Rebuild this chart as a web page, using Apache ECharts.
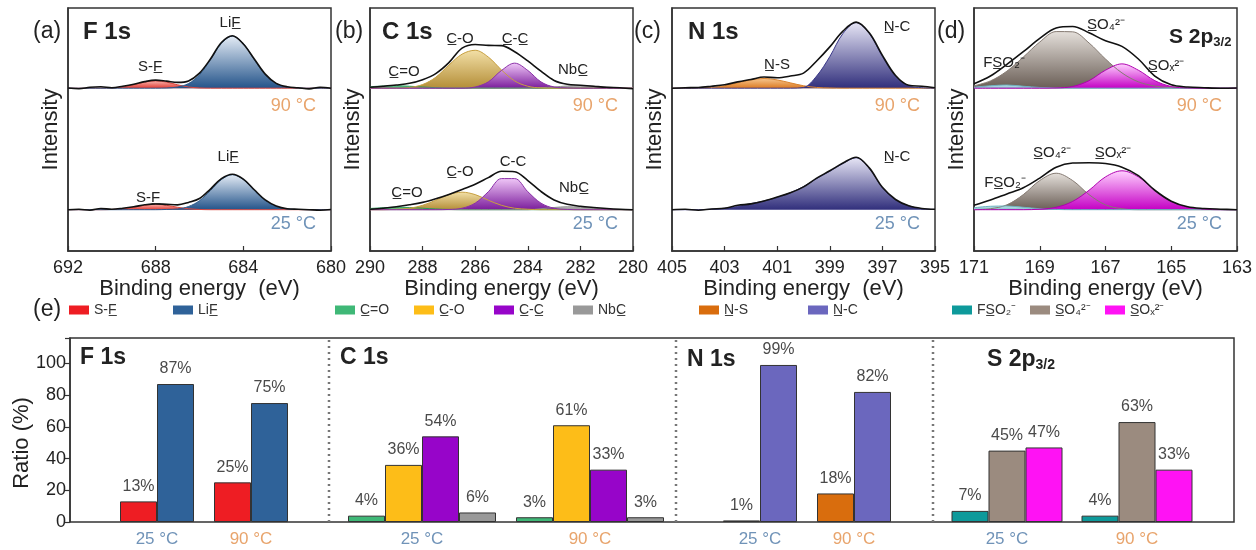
<!DOCTYPE html>
<html>
<head>
<meta charset="utf-8">
<script src="https://cdn.jsdelivr.net/npm/echarts@6/dist/echarts.min.js"></script>
<style>
html, body { margin: 0; padding: 0; background: #fff; }
#chart { width: 1256px; height: 550px; }
</style>
</head>
<body>
<div id="chart"></div>
<script>
// ---------- XPS spectra (heights above each spectrum's baseline) ----------
const eA = [692,691.5,691,690.5,690,689.5,689,688.5,688,687.5,687,686.5,686,685.5,685,684.5,684,683.5,683,682.5,682,681.5,681,680.5,680];
const a90SF  = [0,0,0,0,0.001,0.005,0.014,0.025,0.03,0.025,0.014,0.005,0.001,0,0,0,0,0,0,0,0,0,0,0,0];
const a90LiF = [0,0,0,0,0,0,0,0,0,0.001,0.005,0.019,0.055,0.117,0.184,0.214,0.184,0.117,0.055,0.019,0.005,0.001,0,0,0];
const a90Env = [0.001,-0.002,0.004,0.006,0.002,0.008,0.016,0.027,0.033,0.029,0.024,0.03,0.062,0.12,0.188,0.216,0.182,0.12,0.058,0.02,0.006,0.002,-0.003,0.004,0];
const a25SF  = [0,0,0,0,0.001,0.004,0.01,0.018,0.022,0.018,0.01,0.004,0.001,0,0,0,0,0,0,0,0,0,0,0,0];
const a25LiF = [0,0,0,0,0,0,0,0,0,0.001,0.003,0.013,0.037,0.079,0.124,0.144,0.124,0.079,0.037,0.013,0.003,0.001,0,0,0];
const a25Env = [0,0.002,-0.002,0.005,0.002,0.006,0.012,0.02,0.024,0.022,0.02,0.03,0.046,0.085,0.128,0.146,0.126,0.082,0.04,0.015,0.004,0.002,0,-0.002,0.001];

const eB = [290,289.5,289,288.5,288,287.5,287,286.5,286,285.5,285,284.5,284,283.5,283,282.5,282,281.5,281,280.5,280];
const b90CdO = [0.006,0.009,0.01,0.008,0.005,0.002,0,0,0,0,0,0,0,0,0,0,0,0,0,0,0];
const b90CO  = [0,0,0,0.003,0.015,0.045,0.095,0.14,0.156,0.128,0.075,0.03,0.008,0.001,0,0,0,0,0,0,0];
const b90CC  = [0,0,0,0,0,0,0,0,0.005,0.026,0.073,0.103,0.073,0.026,0.005,0.001,0,0,0,0,0];
const b90NbC = [0,0,0,0,0,0,0,0,0,0,0,0,0,0.002,0.005,0.009,0.01,0.008,0.004,0.002,0.001];
const b90Env = [0.004,0.008,0.013,0.02,0.035,0.06,0.105,0.165,0.18,0.176,0.175,0.15,0.112,0.07,0.032,0.016,0.012,0.008,0.004,0.002,-0.002];
const b25CdO = [0.005,0.008,0.01,0.009,0.006,0.003,0.001,0,0,0,0,0,0,0,0,0,0,0,0,0,0];
const b25CO  = [0,0,0.002,0.006,0.018,0.039,0.062,0.072,0.062,0.039,0.018,0.006,0.002,0,0,0,0,0,0,0,0];
const b25CC  = [0,0,0,0,0,0,0.001,0.006,0.027,0.074,0.128,0.128,0.074,0.027,0.006,0.001,0,0,0,0,0];
const b25NbC = [0,0,0,0,0,0,0,0,0,0,0,0,0,0.004,0.009,0.012,0.01,0.006,0.003,0.001,0];
const b25Env = [0.002,0.006,0.012,0.02,0.03,0.045,0.063,0.083,0.105,0.132,0.158,0.156,0.12,0.075,0.04,0.022,0.014,0.009,0.005,0.002,0];

const eC = [405,404.5,404,403.5,403,402.5,402,401.5,401,400.5,400,399.5,399,398.5,398,397.5,397,396.5,396,395.5,395];
const c90NS  = [0,0,0.001,0.003,0.01,0.022,0.034,0.04,0.034,0.022,0.01,0.003,0.001,0,0,0,0,0,0,0,0];
const c90NC  = [0,0,0,0,0,0,0,0,0,0,0.003,0.05,0.13,0.225,0.27,0.225,0.13,0.05,0.01,0.002,0];
const c90Env = [0,0.002,0.003,0.008,0.014,0.026,0.036,0.046,0.043,0.05,0.062,0.112,0.17,0.235,0.272,0.228,0.135,0.052,0.012,0.008,0.002];
const c25NC  = [0,0,0,0.002,0.006,0.013,0.025,0.036,0.05,0.07,0.095,0.128,0.158,0.19,0.214,0.17,0.09,0.04,0.016,0.004,0.001];
const c25Env = [0,0.002,-0.002,0.003,0.006,0.018,0.024,0.036,0.052,0.07,0.094,0.13,0.16,0.192,0.216,0.172,0.092,0.042,0.016,0.005,0.002];

const eD = [171,170.5,170,169.5,169,168.5,168,167.5,167,166.5,166,165.5,165,164.5,164,163.5,163];
const d90FSO2 = [0.004,0.01,0.013,0.008,0.003,0.001,0,0,0,0,0,0,0,0,0,0,0];
const d90SO4  = [0.01,0.03,0.07,0.128,0.19,0.233,0.232,0.186,0.12,0.063,0.026,0.009,0.002,0,0,0,0];
const d90SOx  = [0,0,0,0,0,0.001,0.007,0.031,0.074,0.1,0.074,0.031,0.007,0.001,0,0,0];
const d90Env  = [0.018,0.05,0.098,0.15,0.205,0.248,0.254,0.228,0.195,0.172,0.12,0.05,0.014,0.005,0.002,0,0.001];
const d25FSO2 = [0.008,0.014,0.015,0.01,0.004,0.001,0,0,0,0,0,0,0,0,0,0,0];
const d25SO4  = [0,0.004,0.02,0.062,0.12,0.15,0.12,0.062,0.02,0.004,0,0,0,0,0,0,0];
const d25SOx  = [0,0,0,0,0.002,0.01,0.034,0.08,0.135,0.16,0.135,0.08,0.034,0.01,0.002,0,0];
const d25Env  = [0.018,0.04,0.065,0.09,0.13,0.175,0.192,0.193,0.19,0.175,0.14,0.08,0.035,0.012,0.005,0.002,0];

// baseline of each spectrum on the 0..1 intensity axis
const BASE_25 = 0.17;
const BASE_90 = 0.67;

// ---------- (e) ratios ----------
const tempCats = ['25 °C', '90 °C'];
const ratioSF   = [13, 25];
const ratioLiF  = [87, 75];
const ratioCdO  = [4, 3];
const ratioCO   = [36, 61];
const ratioCC   = [54, 33];
const ratioNbC  = [6, 3];
const ratioNS   = [1, 18];
const ratioNC   = [99, 82];
const ratioFSO2 = [7, 4];
const ratioSO4  = [45, 63];
const ratioSOx  = [47, 33];

// ---------- styles ----------
const FONT = '"Liberation Sans", Arial, sans-serif';
const COL_90 = '#e8a46c';
const COL_25 = '#7093b8';

const NAMES = {
    SF: 'S-F\u0332', LiF: 'LiF\u0332', CdO: 'C\u0332=O', CO: 'C\u0332-O', CC: 'C\u0332-C\u0332', NbC: 'NbC\u0332',
    NS: 'N\u0332-S', NC: 'N\u0332-C', FSO2: 'FS\u0332O\u2082\u207B', SO4: 'S\u0332O\u2084\u00B2\u207B', SOx: 'S\u0332O\u2093\u00B2\u207B'
};
const RATIO = { SF: ratioSF, LiF: ratioLiF, CdO: ratioCdO, CO: ratioCO, CC: ratioCC, NbC: ratioNbC,
    NS: ratioNS, NC: ratioNC, FSO2: ratioFSO2, SO4: ratioSO4, SOx: ratioSOx };
const BAR_COLOR = { SF: '#ee1d23', LiF: '#2f6299', CdO: '#3fb877', CO: '#fdbd18', CC: '#9705c9', NbC: '#999999',
    NS: '#d96d0d', NC: '#6b67be', FSO2: '#0e9a9b', SO4: '#9b8b7f', SOx: '#ff12f4' };
const FILL = {
    SF:   { top: '#f7b3ac', bot: '#e33b34', line: '#d9463e' },
    LiF:  { top: '#e3ebf5', bot: '#24548a', line: '#2a5a8e' },
    CdO:  { top: '#7fd6a4', bot: '#2aa560', line: '#2a9a5a' },
    CO:   { top: '#f2dfa6', bot: '#b48e38', line: '#c79f3f' },
    CC:   { top: '#efc6f7', bot: '#7b1d9c', line: '#8a2fa8' },
    NbC:  { top: '#c8c8c8', bot: '#8c8c8c', line: '#8a8a8a' },
    NS:   { top: '#f6c690', bot: '#dc7a22', line: '#d9822e' },
    NC:   { top: '#e6e5f5', bot: '#312f7c', line: '#3a388a' },
    FSO2: { top: '#c6e6ec', bot: '#7fc0cc', line: '#6fb2c0' },
    SO4:  { top: '#e4dfda', bot: '#6a5e56', line: '#857a72' },
    SOx:  { top: '#ffd0ff', bot: '#c400c4', line: '#b000b0' }
};

// ---------- layout ----------
const PANEL_TOP = 8, PANEL_H = 243, PANEL_W = 263;
// components listed in drawing order (last one draws the baseline on top)
const panels = [
    { left: 68, min: 680, max: 692, interval: 4, name: 'Binding energy  (eV)', e: eA,
      s90: [['SF', a90SF], ['LiF', a90LiF]], env90: a90Env,
      s25: [['SF', a25SF], ['LiF', a25LiF]], env25: a25Env },
    { left: 370, min: 280, max: 290, interval: 2, name: 'Binding energy (eV)', e: eB,
      s90: [['CdO', b90CdO], ['NbC', b90NbC], ['CO', b90CO], ['CC', b90CC]], env90: b90Env,
      s25: [['CdO', b25CdO], ['NbC', b25NbC], ['CO', b25CO], ['CC', b25CC]], env25: b25Env },
    { left: 672, min: 395, max: 405, interval: 2, name: 'Binding energy  (eV)', e: eC,
      s90: [['NS', c90NS], ['NC', c90NC]], env90: c90Env,
      s25: [['NC', c25NC]], env25: c25Env },
    { left: 974, min: 163, max: 171, interval: 2, name: 'Binding energy (eV)', e: eD,
      s90: [['SO4', d90SO4], ['FSO2', d90FSO2], ['SOx', d90SOx]], env90: d90Env,
      s25: [['SO4', d25SO4], ['FSO2', d25FSO2], ['SOx', d25SOx]], env25: d25Env }
];

const BAR_TOP = 338, BAR_H = 184, BAR_LEFT = 70, BAR_W = 1164, BAR_MAX = 116;
const sections = [
    { left: 110, width: 188, keys: ['SF', 'LiF'] },
    { left: 338, width: 336, keys: ['CdO', 'CO', 'CC', 'NbC'] },
    { left: 713, width: 188, keys: ['NS', 'NC'] },
    { left: 942, width: 260, keys: ['FSO2', 'SO4', 'SOx'] }
];
// left edge of each legend swatch
const legendLeft = { SF: 69, LiF: 173, CdO: 335, CO: 414, CC: 494, NbC: 573, NS: 699, NC: 808, FSO2: 952, SO4: 1030, SOx: 1105 };

const grid = [], xAxis = [], yAxis = [], series = [], graphic = [];

function gradient(f) {
    return { type: 'linear', x: 0, y: 0, x2: 0, y2: 1,
        colorStops: [{ offset: 0, color: f.top }, { offset: 1, color: f.bot }] };
}

function specSeries(gi, energies, vals, base, key) {
    const f = FILL[key];
    return {
        type: 'line', xAxisIndex: gi, yAxisIndex: gi, smooth: 0.35, symbol: 'none', silent: true,
        data: energies.map((e, k) => [e, base + vals[k]]),
        lineStyle: { color: f.line, width: 1 },
        areaStyle: { origin: base, opacity: 1, color: gradient(f) }
    };
}

function envSeries(gi, energies, vals, base) {
    return {
        type: 'line', xAxisIndex: gi, yAxisIndex: gi, smooth: 0.35, symbol: 'none', silent: true, z: 5,
        data: energies.map((e, k) => [e, base + vals[k]]),
        lineStyle: { color: '#111', width: 1.6 }
    };
}

function txt(x, y, text, size, extra) {
    return {
        type: 'text', x: x, y: y, z: 10,
        style: Object.assign({
            text: text, fontSize: size, fontFamily: FONT, fill: '#222',
            textAlign: 'center', align: 'center', textVerticalAlign: 'middle', verticalAlign: 'middle'
        }, extra || {})
    };
}

// ---- top panels ----
panels.forEach((p, i) => {
    grid.push({ left: p.left, top: PANEL_TOP, width: PANEL_W, height: PANEL_H, show: true,
        borderColor: '#333', borderWidth: 1.5 });
    xAxis.push({
        gridIndex: i, type: 'value', inverse: true, min: p.min, max: p.max, interval: p.interval,
        axisLine: { show: true, lineStyle: { color: '#333', width: 1.5 } },
        axisTick: { inside: true, length: 5, lineStyle: { color: '#333', width: 1.2 } },
        axisLabel: { fontSize: 18, color: '#222', margin: 8, fontFamily: FONT },
        splitLine: { show: false },
        name: p.name, nameLocation: 'middle', nameGap: 24,
        nameTextStyle: { fontSize: 22, color: '#222', fontFamily: FONT }
    });
    yAxis.push({
        gridIndex: i, type: 'value', min: 0, max: 1,
        axisLine: { show: true, lineStyle: { color: '#333', width: 1.5 } },
        axisTick: { show: false }, axisLabel: { show: false }, splitLine: { show: false },
        name: 'Intensity', nameLocation: 'middle', nameGap: 6, nameRotate: 90,
        nameTextStyle: { fontSize: 22, color: '#222', fontFamily: FONT }
    });
    p.s90.forEach(([k, v]) => series.push(specSeries(i, p.e, v, BASE_90, k)));
    series.push(envSeries(i, p.e, p.env90, BASE_90));
    p.s25.forEach(([k, v]) => series.push(specSeries(i, p.e, v, BASE_25, k)));
    series.push(envSeries(i, p.e, p.env25, BASE_25));

    const right = p.left + PANEL_W - 15;
    graphic.push(txt(right, 106, '90 °C', 18, { fill: COL_90, textAlign: 'right', align: 'right' }));
    graphic.push(txt(right, 224, '25 °C', 18, { fill: COL_25, textAlign: 'right', align: 'right' }));
});

// panel captions and peak labels
const lbl = 15;
graphic.push(
    txt(33, 32, '(a)', 23, { textAlign: 'left', align: 'left' }),
    txt(83, 32, 'F 1s', 24, { textAlign: 'left', align: 'left', fontWeight: 'bold' }),
    txt(230, 23, NAMES.LiF, lbl), txt(150, 67, NAMES.SF, lbl),
    txt(228, 157, NAMES.LiF, lbl), txt(148, 198, NAMES.SF, lbl),

    txt(335, 32, '(b)', 23, { textAlign: 'left', align: 'left' }),
    txt(382, 32, 'C 1s', 24, { textAlign: 'left', align: 'left', fontWeight: 'bold' }),
    txt(460, 39, NAMES.CO, lbl), txt(515, 39, NAMES.CC, lbl),
    txt(404, 72, NAMES.CdO, lbl), txt(573, 70, NAMES.NbC, lbl),
    txt(513, 162, 'C-C', lbl), txt(460, 172, NAMES.CO, lbl),
    txt(407, 193, NAMES.CdO, lbl), txt(574, 188, NAMES.NbC, lbl),

    txt(634, 32, '(c)', 23, { textAlign: 'left', align: 'left' }),
    txt(688, 32, 'N 1s', 24, { textAlign: 'left', align: 'left', fontWeight: 'bold' }),
    txt(777, 65, NAMES.NS, lbl), txt(897, 27, NAMES.NC, lbl), txt(897, 157, NAMES.NC, lbl),

    txt(937, 32, '(d)', 23, { textAlign: 'left', align: 'left' }),
    txt(1169, 37, '{b|S 2p}{s|3/2}', 21, { textAlign: 'left', align: 'left',
        rich: { b: { fontSize: 21, fontWeight: 'bold', fontFamily: FONT, fill: '#222' },
                s: { fontSize: 13, fontWeight: 'bold', fontFamily: FONT, fill: '#222', padding: [10, 0, 0, 0] } } }),
    txt(1106, 25, NAMES.SO4, lbl), txt(1004, 63, NAMES.FSO2, lbl), txt(1166, 66, NAMES.SOx, lbl),
    txt(1052, 153, NAMES.SO4, lbl), txt(1113, 153, NAMES.SOx, lbl), txt(1005, 183, NAMES.FSO2, lbl)
);

// ---- (e) bar chart frame with the ratio axis ----
const frameIdx = grid.length;
grid.push({ left: BAR_LEFT, top: BAR_TOP, width: BAR_W, height: BAR_H, show: true,
    borderColor: '#333', borderWidth: 1.5 });
xAxis.push({ gridIndex: frameIdx, type: 'value', min: 0, max: 1, show: false });
yAxis.push({
    gridIndex: frameIdx, type: 'value', min: 0, max: BAR_MAX, interval: 20,
    axisLine: { show: true, lineStyle: { color: '#333', width: 1.5 } },
    axisTick: { show: true, inside: false, length: 5, lineStyle: { color: '#333', width: 1.2 } },
    axisLabel: { fontSize: 18, color: '#222', margin: 4, fontFamily: FONT,
        formatter: (v) => (v % 20 === 0 ? String(v) : '') },
    splitLine: { show: false }
});

sections.forEach((s, j) => {
    const gi = grid.length;
    grid.push({ left: s.left, top: BAR_TOP, width: s.width, height: BAR_H });
    xAxis.push({
        gridIndex: gi, type: 'category', data: tempCats,
        axisLine: { show: false }, axisTick: { show: false },
        axisLabel: { fontSize: 17, margin: 9, fontFamily: FONT,
            color: (v) => v.indexOf('25') === 0 ? COL_25 : COL_90 }
    });
    yAxis.push({ gridIndex: gi, type: 'value', min: 0, max: BAR_MAX, show: false });
    s.keys.forEach(k => series.push({
        type: 'bar', name: NAMES[k], xAxisIndex: gi, yAxisIndex: gi,
        data: RATIO[k], barWidth: 37, barGap: '0%',
        itemStyle: { color: BAR_COLOR[k], borderColor: '#333', borderWidth: 1 },
        label: { show: true, position: 'top', distance: 7, formatter: (q) => q.value + '%',
            fontSize: 16, color: '#4a4a4a', fontFamily: FONT }
    }));
});

// section dividers and titles of (e)
[329, 676, 933].forEach(x => graphic.push({
    type: 'line', z: 3, shape: { x1: x, y1: BAR_TOP + 2, x2: x, y2: BAR_TOP + BAR_H },
    style: { stroke: '#777', lineWidth: 2.5, lineDash: [2, 4] }
}));
const ratioName = txt(22, 443, 'Ratio (%)', 22);
ratioName.rotation = Math.PI / 2;
graphic.push(
    ratioName,
    txt(33, 310, '(e)', 23, { textAlign: 'left', align: 'left' }),
    txt(80, 358, 'F 1s', 23, { textAlign: 'left', align: 'left', fontWeight: 'bold' }),
    txt(340, 358, 'C 1s', 23, { textAlign: 'left', align: 'left', fontWeight: 'bold' }),
    txt(687, 360, 'N 1s', 23, { textAlign: 'left', align: 'left', fontWeight: 'bold' }),
    txt(987, 360, '{b|S 2p}{s|3/2}', 23, { textAlign: 'left', align: 'left',
        rich: { b: { fontSize: 23, fontWeight: 'bold', fontFamily: FONT, fill: '#222' },
                s: { fontSize: 14, fontWeight: 'bold', fontFamily: FONT, fill: '#222', padding: [11, 0, 0, 0] } } })
);

// ---- legend: one swatch per component, placed under its panel ----
const legends = Object.keys(legendLeft).map(k => ({
    left: legendLeft[k], top: 303, padding: 0, itemWidth: 20, itemHeight: 9, itemGap: 0,
    icon: 'rect', selectedMode: false, data: [NAMES[k]],
    itemStyle: { borderWidth: 0 },
    textStyle: { fontSize: 14, color: '#333', fontFamily: FONT }
}));

const chart = echarts.init(document.getElementById('chart'));
chart.setOption({
    animation: false,
    backgroundColor: '#fff',
    textStyle: { fontFamily: FONT },
    grid: grid,
    xAxis: xAxis,
    yAxis: yAxis,
    legend: legends,
    series: series,
    graphic: graphic
});
</script>
</body>
</html>
